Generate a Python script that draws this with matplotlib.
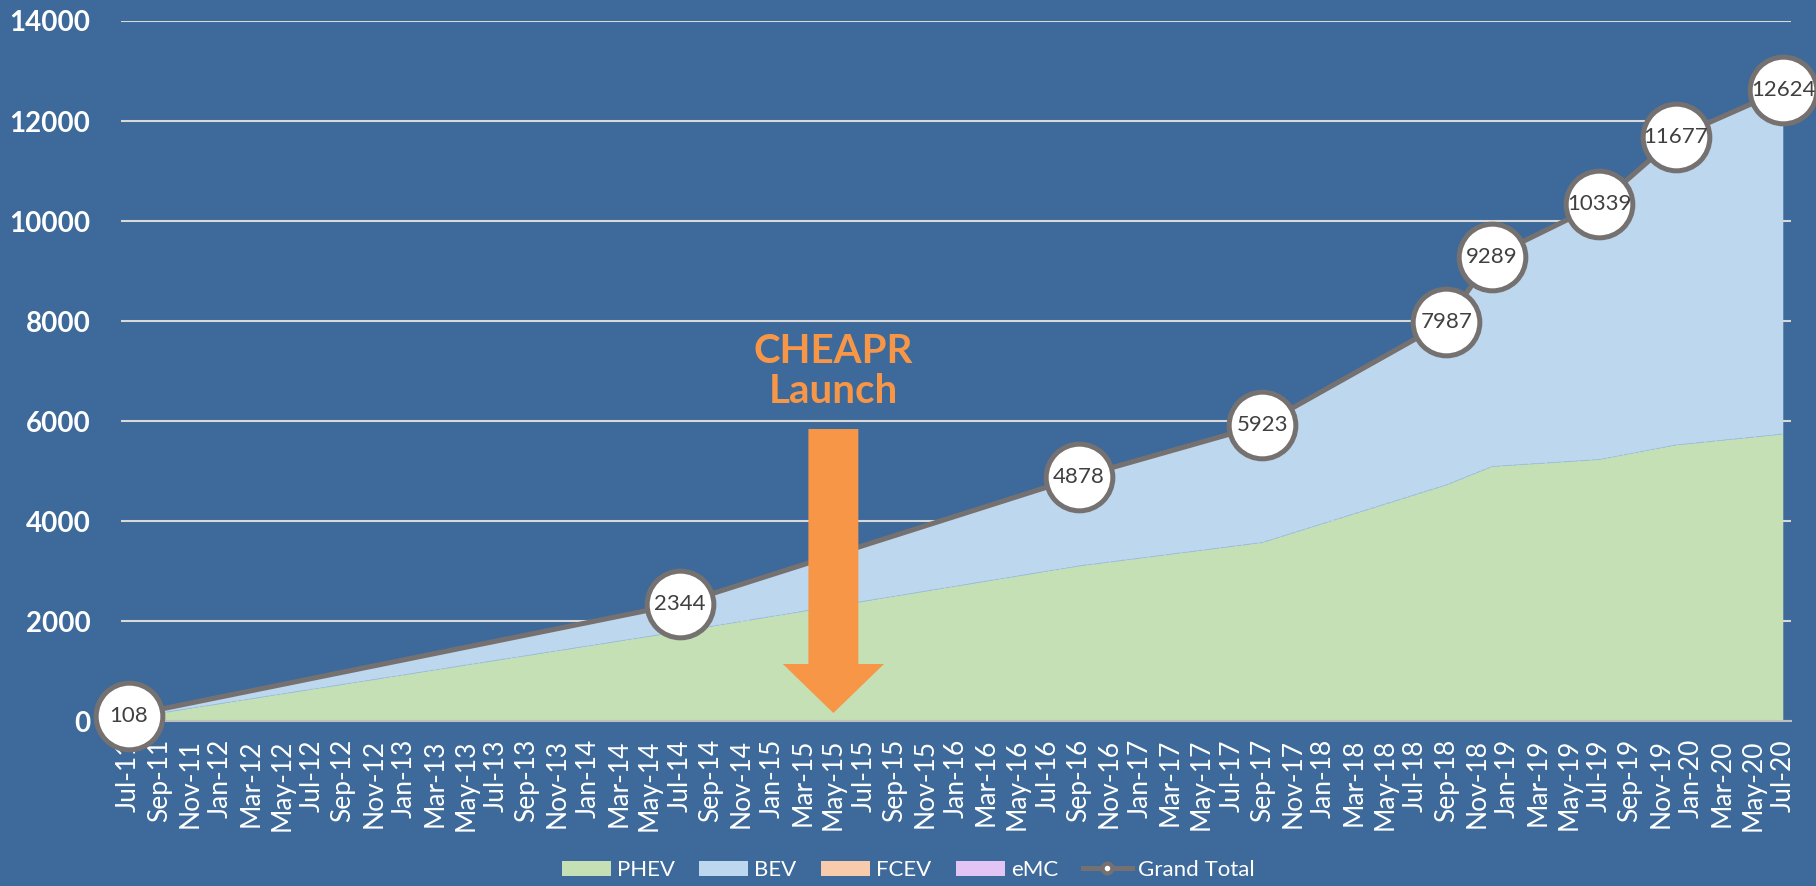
import matplotlib
matplotlib.use("Agg")
import matplotlib.pyplot as plt
from matplotlib.patches import Patch, FancyArrow
from matplotlib.lines import Line2D
import numpy as np
import pandas as pd

plt.rcParams['font.family'] = ['Lato', 'DejaVu Sans']

# cumulative registrations at the dates labelled on the chart
dates = ["2011-07", "2014-07", "2016-09", "2017-09", "2018-09",
         "2018-12", "2019-07", "2019-12", "2020-07"]
total = [108, 2344, 4878, 5923, 7987, 9289, 10339, 11677, 12624]
phev = [60, 1790, 3100, 3570, 4720, 5090, 5230, 5520, 5740]
bev = [48, 554, 1778, 2353, 3267, 4199, 5109, 6157, 6884]
fcev = [0, 0, 0, 0, 0, 0, 0, 0, 0]
emc = [0, 0, 0, 0, 0, 0, 0, 0, 0]

series_names = ["PHEV", "BEV", "FCEV", "eMC"]
series_colors = ["#C5E0B4", "#BDD7EE", "#F8CBAD", "#E2C4F5"]

start = pd.Timestamp("2011-07-01")
end = pd.Timestamp("2020-07-01")
tick_dates = pd.date_range(start, end, freq="2MS")
tick_labels = [d.strftime("%b-%y") for d in tick_dates]

event_text = "CHEAPR\nLaunch"
event_date = "2015-05"

BG = "#3D6A9A"
GRAY = "#767171"
ORANGE = "#F79646"


def month_index(s):
    d = pd.Timestamp(s)
    return (d.year - start.year) * 12 + (d.month - start.month)


x = np.array([month_index(d) for d in dates])
tick_pos = [month_index(d) for d in tick_dates]
n_months = month_index(end)

fig = plt.figure(figsize=(18.16, 8.86), dpi=100, facecolor=BG)
ax = fig.add_axes([0.0666, 0.1862, 0.9196, 0.7901], facecolor=BG)

ax.stackplot(x, phev, bev, fcev, emc, colors=series_colors, lw=0, zorder=2)
# faint seam between PHEV and BEV
ax.plot(x, phev, color="#9DC3E6", lw=0.8, ls=(0, (3, 2)), zorder=3)

ax.plot(x, total, color=GRAY, lw=3.6, zorder=4, solid_capstyle="butt")
ax.plot(x, total, ls="none", marker="o", ms=48, mfc="white", mec=GRAY,
        mew=3.6, zorder=7, clip_on=False)
for xi, v in zip(x, total):
    ax.text(xi, v, f"{v}", ha="center", va="center", fontsize=16,
            color="#404040", zorder=8, clip_on=False)

# launch arrow
ex = month_index(event_date)
arrow = FancyArrow(ex, 5840, 0, -5680, width=3.26, head_width=6.6,
                   head_length=980, length_includes_head=True,
                   color=ORANGE, lw=0, zorder=6)
ax.add_patch(arrow)
ax.text(ex, 7000, event_text, ha="center", va="center", fontsize=29,
        fontweight="bold", color=ORANGE, linespacing=1.1, zorder=6)

ax.set_xlim(-0.5, n_months + 0.5)
ax.set_ylim(0, 14000)
ax.set_yticks(np.arange(0, 14001, 2000))
ax.set_xticks(tick_pos)
ax.set_xticklabels(tick_labels, rotation=90, ha="center", va="top")
ax.tick_params(axis="x", length=0, pad=13, labelsize=19, labelcolor="white")
ax.tick_params(axis="y", length=0, pad=22, labelsize=20, labelcolor="white")
for lab in ax.get_yticklabels():
    lab.set_fontweight("bold")

ax.set_axisbelow(True)
ax.yaxis.grid(True, color="#D9D9D9", lw=1.5)
for s in ["top", "right", "left"]:
    ax.spines[s].set_visible(False)
ax.spines["bottom"].set_color("#BFBFBF")
ax.spines["bottom"].set_linewidth(1.5)
ax.spines["bottom"].set_zorder(3)

handles = [Patch(facecolor=c, edgecolor="none") for c in series_colors]
handles.append(Line2D([], [], color=GRAY, lw=3.6, marker="o", ms=7,
                      mfc="white", mec=GRAY, mew=3))
labels = series_names + ["Grand Total"]
fig.legend(handles, labels, loc="center", bbox_to_anchor=(0.5, 0.018),
           ncol=5, frameon=False, fontsize=16, labelcolor="white",
           handlelength=2.2, handleheight=0.65, handletextpad=0.28,
           columnspacing=1.1)

fig.savefig("out.png", dpi=100, facecolor=BG)
